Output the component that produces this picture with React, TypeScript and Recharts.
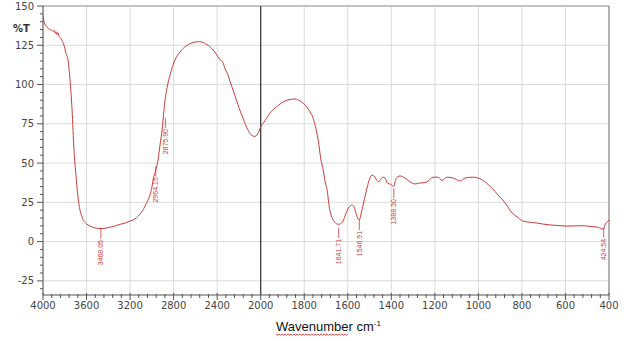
import React from "react";
import {
  LineChart,
  Line,
  XAxis,
  YAxis,
  CartesianGrid,
  ReferenceLine,
  ReferenceDot,
} from "recharts";

// IR trace: wavenumber (cm-1) and %T
const wavenumbers = [
  4000, 3990, 3982, 3963, 3950, 3936, 3920, 3908, 3895, 3888, 3880, 3872, 3862,
  3855, 3844, 3825, 3807, 3789, 3770, 3752, 3733, 3715, 3697, 3678, 3660, 3645,
  3632, 3610, 3586, 3555, 3522, 3476, 3440, 3412, 3375, 3338, 3290, 3246, 3210,
  3173, 3140, 3108, 3085, 3062, 3040, 3017, 3000, 2989, 2978, 2970, 2964, 2955,
  2943, 2925, 2906, 2888, 2879, 2860, 2833, 2810, 2787, 2765, 2741, 2715, 2686,
  2650, 2621, 2590, 2560, 2529, 2500, 2483, 2460, 2437, 2415, 2391, 2370, 2355,
  2346, 2330, 2300, 2277, 2254, 2230, 2208, 2185, 2162, 2140, 2116, 2100, 2080,
  2060, 2043, 2028, 2015, 2000, 1980, 1957, 1934, 1911, 1888, 1865, 1842, 1819,
  1796, 1773, 1760, 1750, 1736, 1723, 1713, 1704, 1695, 1686, 1677, 1663, 1649,
  1641, 1635, 1622, 1608, 1594, 1580, 1571, 1562, 1553, 1547, 1539, 1530, 1516,
  1502, 1489, 1480, 1466, 1458, 1452, 1439, 1429, 1416, 1402, 1395, 1388, 1379,
  1360, 1337, 1314, 1291, 1268, 1250, 1236, 1208, 1185, 1167, 1144, 1116, 1084,
  1061, 1029, 1001, 985, 969, 953, 937, 910, 877, 845, 822, 795, 760, 731, 700,
  671, 630, 593, 555, 519, 495, 474, 455, 442, 432, 424, 419, 405, 400,
];
const transmittance = [
  144, 140, 138.5, 136.6, 135.5, 135, 134.6, 133.8, 134.5, 132.6, 133.6, 131.8,
  133, 131, 130, 128, 125, 120, 115.6, 103, 84, 58, 42, 28, 20, 16.5, 14, 12,
  10.6, 9.5, 8.7, 8.3, 8.4, 8.7, 9.3, 10, 11, 11.8, 12.8, 13.8, 15.2, 17.6, 19.8,
  22.7, 25.8, 29.7, 34.5, 39, 42.5, 44, 45.5, 48, 52, 61.5, 71, 84, 90, 98, 106,
  111.5, 115.6, 118.5, 120.7, 122.8, 124.5, 126, 126.8, 127.2, 127.3, 126.8,
  125.6, 125, 123.6, 122, 120, 117.5, 115.5, 115, 114, 110.5, 106, 101, 96.5,
  91.5, 87, 82.5, 78.7, 74.5, 71, 69, 67.5, 67, 67.2, 68.5, 70.4, 73, 77, 82, 85,
  87.6, 89.5, 90.5, 90.8, 89.5, 87, 82.5, 79, 74, 64.7, 52, 45.6, 38, 33, 23, 17,
  13, 11.2, 11, 11.2, 13, 18, 22, 23.3, 22, 18, 14.4, 13.8, 17.6, 23, 31.6, 39,
  42.4, 41.8, 39, 38, 39, 41, 40.4, 37, 36.5, 35.5, 35.2, 40, 41.8, 40.5, 38,
  36.7, 37.3, 37.5, 38, 41, 41, 39, 41, 40.5, 38.6, 40.5, 41, 40.5, 39.5, 38, 36,
  34, 29.7, 24.6, 18.2, 15.7, 13, 12.3, 11.8, 11.1, 10.6, 10.2, 9.9, 10, 10.1,
  9.8, 9.5, 9.3, 8.7, 8, 8.2, 10.6, 13, 13.8,
];

// picked peaks: position, printed label, %T where the pointer starts
const peakWavenumbers = [3468.05, 2964.15, 2875.9, 1641.71, 1546.91, 1388.3, 424.54];
const peakLabels = ["3468.05", "2964.15", "2875.90", "1641.71", "1546.91", "1388.30", "424.54"];
const peakTips = [8, 48, 78.7, 8.7, 13.8, 34, 8.7];

const majorWavenumbers = [
  4000, 3600, 3200, 2800, 2400, 2000, 1800, 1600, 1400, 1200, 1000, 800, 600, 400,
];
const majorPercent = [-25, 0, 25, 50, 75, 100, 125, 150];

// the scale is doubled below 2000 cm-1
const BREAK = 2000;
const toAxis = (wn: number) => (wn >= BREAK ? 4000 - wn : 2000 + (BREAK - wn) * 2);
const fromAxis = (t: number) => (t <= 2000 ? 4000 - t : BREAK - (t - 2000) / 2);

const data = wavenumbers.map((wn, i) => ({
  pos: toAxis(wn),
  wn,
  T: transmittance[i],
}));

const majorX = majorWavenumbers.map(toAxis);
const majorXSet = new Set(majorX);
const xTicks: number[] = [];
for (let i = 0; i < majorX.length - 1; i++) {
  const step = (majorX[i + 1] - majorX[i]) / 5;
  for (let k = 0; k < 5; k++) xTicks.push(majorX[i] + step * k);
}
xTicks.push(majorX[majorX.length - 1]);

const yTicks: number[] = [];
for (let v = -30; v <= 150; v += 5) yTicks.push(v);
const majorYSet = new Set(majorPercent);

const AXIS = "#555";
const TICK_TEXT = "#444";
const RED = "#c83c3c";

const XTick = ({ x, y, payload }: any) => {
  const major = majorXSet.has(payload.value);
  const axisY = y - 7;
  return (
    <g>
      <line
        x1={x}
        x2={x}
        y1={axisY - (major ? 2 : 1)}
        y2={axisY + (major ? 5 : 3)}
        stroke={AXIS}
      />
      {major && (
        <text
          x={x}
          y={axisY + 14}
          textAnchor="middle"
          fill={TICK_TEXT}
          fontSize={10}
          fontFamily="DejaVu Sans"
        >
          {Math.round(fromAxis(payload.value))}
        </text>
      )}
    </g>
  );
};

const YTick = ({ x, y, payload }: any) => {
  const major = majorYSet.has(payload.value);
  const axisX = x + 9;
  return (
    <g>
      <line x1={axisX - (major ? 6 : 3)} x2={axisX} y1={y} y2={y} stroke={AXIS} />
      {major && (
        <text
          x={axisX - 9}
          y={y}
          dy="0.35em"
          textAnchor="end"
          fill={TICK_TEXT}
          fontSize={10}
          fontFamily="DejaVu Sans"
        >
          {payload.value}
        </text>
      )}
    </g>
  );
};

const PeakMark = ({ cx, cy, text }: any) => {
  const len = 10;
  return (
    <g>
      <line x1={cx} x2={cx} y1={cy} y2={cy + len} stroke={RED} strokeWidth={0.8} />
      <text
        x={cx}
        y={cy + len + 1}
        dy="0.35em"
        textAnchor="end"
        transform={`rotate(-90, ${cx}, ${cy + len + 1})`}
        fill={RED}
        fontSize={7}
        fontFamily="Liberation Sans"
      >
        {text}
      </text>
    </g>
  );
};

const XTitle = ({ viewBox }: any) => {
  const x0 = viewBox.x + 233;
  const y0 = viewBox.y + 36;
  // spell-check squiggle under the first word
  let squiggle = `M ${x0} ${y0 + 3}`;
  for (let i = 0; i < 24; i++) squiggle += " l 1.5 1.3 l 1.5 -1.3";
  return (
    <g>
      <text x={x0} y={y0} fontSize={13} fill="#111" fontFamily="Liberation Sans">
        Wavenumber cm
        <tspan dy={-5} fontSize={8}>
          -1
        </tspan>
      </text>
      <path d={squiggle} fill="none" stroke="#e02020" strokeWidth={0.8} />
    </g>
  );
};

const YTitle = ({ viewBox }: any) => (
  <text
    x={viewBox.x + 13}
    y={viewBox.y + 26}
    fontSize={10}
    fontWeight="bold"
    fill="#333"
    fontFamily="DejaVu Sans"
  >
    %T
  </text>
);

export default function App() {
  return (
    <div
      style={{
        position: "absolute",
        left: 0,
        top: 0,
        width: 627,
        height: 341,
        background: "#fff",
      }}
    >
      <LineChart
        width={627}
        height={341}
        data={data}
        margin={{ top: 6, right: 18, left: 0, bottom: 0 }}
      >
        <CartesianGrid
          stroke="#dadada"
          verticalValues={majorX}
          horizontalValues={majorPercent}
        />
        <XAxis
          dataKey="pos"
          type="number"
          domain={[0, 5200]}
          allowDataOverflow
          ticks={xTicks}
          interval={0}
          tickSize={5}
          tickMargin={2}
          tickLine={false}
          tick={<XTick />}
          height={46}
          axisLine={{ stroke: AXIS }}
          label={{ content: (p: any) => <XTitle viewBox={p.viewBox} /> }}
        />
        <YAxis
          type="number"
          domain={[-34, 150]}
          allowDataOverflow
          ticks={yTicks}
          interval={0}
          tickSize={6}
          tickMargin={3}
          tickLine={false}
          tick={<YTick />}
          width={43}
          axisLine={{ stroke: AXIS }}
          label={{ content: (p: any) => <YTitle viewBox={p.viewBox} /> }}
        />
        <ReferenceLine y={150} stroke="#9a9a9a" />
        <ReferenceLine x={toAxis(400)} stroke="#777" />
        <ReferenceLine x={toAxis(2000)} stroke="#333" strokeWidth={1.2} />
        <Line
          type="monotone"
          dataKey="T"
          stroke={RED}
          strokeWidth={1}
          dot={false}
          isAnimationActive={false}
        />
        {peakWavenumbers.map((wn, i) => (
          <ReferenceDot
            key={wn}
            x={toAxis(wn)}
            y={peakTips[i]}
            r={0}
            shape={(p: any) => <PeakMark cx={p.cx} cy={p.cy} text={peakLabels[i]} />}
          />
        ))}
      </LineChart>
    </div>
  );
}
